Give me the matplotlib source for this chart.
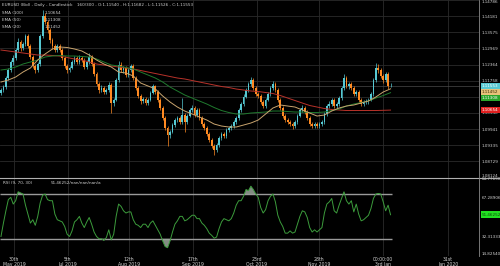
import numpy as np
import matplotlib
matplotlib.use('Agg')
import matplotlib.pyplot as plt
import matplotlib.transforms as mtransforms

# ---------------- data ----------------
open0 = 1.1130
closes = [1.1141, 1.1152, 1.1186, 1.1216, 1.1246, 1.1261, 1.1291, 1.1321, 1.1298, 1.1313,
          1.1343, 1.1306, 1.1265, 1.1231, 1.1216, 1.1238, 1.1343, 1.1419, 1.1396, 1.1366,
          1.1328, 1.1306, 1.1291, 1.1306, 1.1291, 1.1261, 1.1231, 1.1216, 1.1223, 1.1246,
          1.1261, 1.1246, 1.1261, 1.1253, 1.1227, 1.1246, 1.1265, 1.1238, 1.1201, 1.1163,
          1.1141, 1.1148, 1.1133, 1.1141, 1.1160, 1.1092, 1.1103, 1.1178, 1.1235, 1.1216,
          1.1223, 1.1197, 1.1216, 1.1231, 1.1186, 1.1148, 1.1118, 1.1099, 1.1107, 1.1092,
          1.1103, 1.1130, 1.1156, 1.1133, 1.1103, 1.1073, 1.1036, 1.0998, 1.0972, 1.0983,
          1.1009, 1.1028, 1.1036, 1.1021, 1.1047, 1.1021, 1.1043, 1.1066, 1.1073, 1.1047,
          1.1066, 1.1036, 1.1013, 1.0998, 1.0976, 1.0953, 1.0931, 1.0916, 1.0934, 1.0961,
          1.0976, 1.0968, 1.0991, 1.0998, 1.1006, 1.1021, 1.1036, 1.1066, 1.1088, 1.1115,
          1.1141, 1.1163, 1.1178, 1.1148, 1.1126, 1.1118, 1.1096, 1.1081, 1.1103, 1.1126,
          1.1148, 1.1163, 1.1141, 1.1103, 1.1073, 1.1043, 1.1028, 1.1021, 1.1013, 1.1006,
          1.1021, 1.1043, 1.1066, 1.1073, 1.1058, 1.1036, 1.1013, 1.1006, 1.1013, 1.1006,
          1.1013, 1.1021, 1.1051, 1.1081, 1.1088, 1.1103, 1.1081, 1.1088, 1.1111, 1.1148,
          1.1186, 1.1156, 1.1163, 1.1148, 1.1126, 1.1133, 1.1103, 1.1088, 1.1096, 1.1099,
          1.1103, 1.1126, 1.1178, 1.1223, 1.1216, 1.1193, 1.1178, 1.1201, 1.1154, 1.11553]
highs = [1.1150, 1.1160, 1.1194, 1.1225, 1.1255, 1.1272, 1.1300, 1.1335, 1.1330, 1.1320,
         1.1350, 1.1350, 1.1312, 1.1272, 1.1240, 1.1245, 1.1352, 1.1441, 1.1428, 1.1405,
         1.1372, 1.1335, 1.1312, 1.1315, 1.1312, 1.1298, 1.1268, 1.1240, 1.1232, 1.1255,
         1.1270, 1.1268, 1.1272, 1.1270, 1.1260, 1.1255, 1.1280, 1.1272, 1.1245, 1.1208,
         1.1170, 1.1158, 1.1155, 1.1150, 1.1170, 1.1166, 1.1112, 1.1186, 1.1250, 1.1245,
         1.1232, 1.1230, 1.1225, 1.1240, 1.1238, 1.1195, 1.1155, 1.1125, 1.1115, 1.1115,
         1.1112, 1.1138, 1.1163, 1.1160, 1.1140, 1.1110, 1.1080, 1.1042, 1.1005, 1.0992,
         1.1018, 1.1036, 1.1045, 1.1042, 1.1110, 1.1055, 1.1052, 1.1075, 1.1085, 1.1080,
         1.1075, 1.1072, 1.1042, 1.1020, 1.1005, 1.0982, 1.0960, 1.0938, 1.0942, 1.0968,
         1.0985, 1.0982, 1.0998, 1.1006, 1.1015, 1.1030, 1.1045, 1.1075, 1.1096, 1.1124,
         1.1150, 1.1172, 1.1190, 1.1185, 1.1155, 1.1135, 1.1125, 1.1102, 1.1110, 1.1134,
         1.1156, 1.1175, 1.1170, 1.1148, 1.1110, 1.1080, 1.1050, 1.1036, 1.1030, 1.1022,
         1.1030, 1.1052, 1.1075, 1.1085, 1.1080, 1.1065, 1.1042, 1.1020, 1.1022, 1.1020,
         1.1020, 1.1030, 1.1060, 1.1090, 1.1098, 1.1112, 1.1110, 1.1096, 1.1120, 1.1156,
         1.1200, 1.1195, 1.1172, 1.1172, 1.1155, 1.1142, 1.1140, 1.1110, 1.1104, 1.1106,
         1.1111, 1.1135, 1.1186, 1.1242, 1.1239, 1.1225, 1.1200, 1.1210, 1.1208, 1.11682]
lows = [1.1122, 1.1133, 1.1145, 1.1178, 1.1208, 1.1235, 1.1252, 1.1282, 1.1288, 1.1290,
        1.1305, 1.1298, 1.1258, 1.1222, 1.1205, 1.1208, 1.1230, 1.1335, 1.1388, 1.1355,
        1.1318, 1.1296, 1.1282, 1.1284, 1.1283, 1.1252, 1.1222, 1.1206, 1.1208, 1.1218,
        1.1240, 1.1238, 1.1240, 1.1245, 1.1218, 1.1220, 1.1240, 1.1230, 1.1192, 1.1155,
        1.1130, 1.1135, 1.1125, 1.1126, 1.1135, 1.1055, 1.1080, 1.1098, 1.1170, 1.1208,
        1.1205, 1.1188, 1.1190, 1.1208, 1.1178, 1.1140, 1.1110, 1.1090, 1.1092, 1.1085,
        1.1086, 1.1098, 1.1125, 1.1126, 1.1096, 1.1066, 1.1028, 1.0990, 1.0930, 1.0962,
        1.0978, 1.1002, 1.1020, 1.1012, 1.1015, 1.0985, 1.1015, 1.1038, 1.1060, 1.1040,
        1.1040, 1.1028, 1.1005, 1.0990, 1.0968, 1.0945, 1.0922, 1.0897, 1.0908, 1.0928,
        1.0955, 1.0960, 1.0962, 1.0985, 1.0990, 1.1000, 1.1015, 1.1030, 1.1060, 1.1082,
        1.1110, 1.1135, 1.1155, 1.1140, 1.1118, 1.1110, 1.1088, 1.1072, 1.1075, 1.1098,
        1.1120, 1.1142, 1.1132, 1.1095, 1.1065, 1.1035, 1.1020, 1.1012, 1.1005, 1.0996,
        1.1000, 1.1015, 1.1038, 1.1060, 1.1050, 1.1028, 1.1005, 1.0998, 1.1000, 1.0998,
        1.0999, 1.1005, 1.1015, 1.1045, 1.1072, 1.1080, 1.1072, 1.1072, 1.1080, 1.1105,
        1.1140, 1.1148, 1.1145, 1.1140, 1.1118, 1.1118, 1.1095, 1.1080, 1.1082, 1.1088,
        1.1090, 1.1098, 1.1120, 1.1170, 1.1205, 1.1185, 1.1168, 1.1170, 1.1146, 1.11526]

ma_step = 3  # indicator lines sampled every 3rd candle
sma100 = [1.12909, 1.12872, 1.12834, 1.12797, 1.12759, 1.12721, 1.12721, 1.12703, 1.12684, 1.12628,
          1.12571, 1.12534, 1.12459, 1.12384, 1.12346, 1.12309, 1.12271, 1.12233, 1.12196, 1.12140,
          1.12083, 1.12027, 1.11971, 1.11914, 1.11858, 1.11821, 1.11764, 1.11708, 1.11652, 1.11595,
          1.11539, 1.11501, 1.11445, 1.11408, 1.11370, 1.11351, 1.11314, 1.11276, 1.11201, 1.11107,
          1.11013, 1.10919, 1.10826, 1.10769, 1.10713, 1.10676, 1.10657, 1.10638, 1.10638, 1.10638,
          1.10638, 1.10638, 1.10646, 1.10654]
ema50 = [1.12158, 1.12196, 1.12271, 1.12384, 1.12459, 1.12534, 1.12646, 1.12684, 1.12703, 1.12684,
         1.12684, 1.12665, 1.12646, 1.12571, 1.12459, 1.12346, 1.12309, 1.12252, 1.12196, 1.12083,
         1.11971, 1.11858, 1.11708, 1.11520, 1.11370, 1.11220, 1.11107, 1.10995, 1.10882, 1.10751,
         1.10638, 1.10563, 1.10507, 1.10507, 1.10544, 1.10563, 1.10582, 1.10619, 1.10619, 1.10601,
         1.10582, 1.10582, 1.10563, 1.10563, 1.10582, 1.10638, 1.10694, 1.10807, 1.10882, 1.10938,
         1.10995, 1.11107, 1.11201, 1.11308]
sma20 = [1.11708, 1.11783, 1.11896, 1.12083, 1.12233, 1.12534, 1.12759, 1.12947, 1.13022, 1.13003,
         1.12947, 1.12872, 1.12721, 1.12534, 1.12384, 1.12271, 1.12083, 1.12046, 1.11933, 1.11670,
         1.11558, 1.11445, 1.11183, 1.10957, 1.10769, 1.10619, 1.10507, 1.10394, 1.10281, 1.10131,
         1.10056, 1.10019, 1.10019, 1.10093, 1.10169, 1.10281, 1.10507, 1.10732, 1.10845, 1.10807,
         1.10769, 1.10657, 1.10544, 1.10431, 1.10469, 1.10619, 1.10732, 1.10807, 1.10845, 1.10919,
         1.10995, 1.11145, 1.11333, 1.11452]

rsi = [32, 44, 55, 65, 67, 61, 64, 72, 71, 70,
       60, 52, 44, 47, 42, 50, 62, 69, 70, 65,
       64, 64, 52, 47, 46, 45, 41, 34, 32, 37,
       45, 47, 50, 44, 40, 45, 49, 43, 36, 32,
       30, 30, 28.5, 31, 38, 29, 34, 50, 61, 59,
       55, 53, 54, 54, 47, 43, 42, 40, 43, 43,
       40, 44, 46, 42, 38, 34, 28, 23, 22, 28,
       36, 43, 46, 50, 50, 46, 47, 49, 51, 51,
       48, 48, 44, 42, 39, 35, 33, 30.5, 31.5, 39,
       45, 48, 47, 46, 48, 53, 60, 64, 64, 68,
       74, 73, 77, 74, 70, 67, 58, 53, 56, 64,
       68, 70, 63, 51, 45, 41, 35, 35, 37, 35,
       36, 43, 50, 55, 54, 49, 40, 36, 38, 36,
       38, 40, 53, 61, 63, 66, 55, 53, 60, 66,
       72, 64, 61, 64, 54, 61, 52, 46, 47, 49,
       51, 57, 66, 70, 70.5, 70, 63, 55, 60, 51.46252]

date_ticks = [5.3, 27.3, 52.2, 78.4, 104.5, 129.8, 155.9, 182.4]
date_labels = ['30th\nMay 2019', '5th\nJul 2019', '12th\nAug 2019', '17th\nSep 2019',
               '23rd\nOct 2019', '28th\nNov 2019', '00:00:00\n3rd Jan', '31st\nJan 2020']
price_ticks = [1.08124, 1.08729, 1.09335, 1.09941, 1.10546, 1.11152,
               1.11758, 1.12364, 1.12969, 1.13575, 1.14181, 1.14786]
rsi_ticks = [14.82540, 32.31333, 67.28906, 84.77698]
rsi_upper, rsi_lower = 70, 30

# ---------------- styling ----------------
BG = 'black'
UP = '#56c8d2'
DN = '#ff8a22'
C_SMA100 = '#b8322a'
C_EMA50 = '#1f7a2e'
C_SMA20 = '#c9a46e'
GRID = '#2a2a2a'
TXT = '#d0d0d0'
FS = 3.0

W, H = 500, 266
fig = plt.figure(figsize=(W / 100, H / 100), dpi=100, facecolor=BG)
main_top, main_bot, rsi_bot = 0, 177.5, 255.7
plot_w = 479
ax = fig.add_axes([0, 1 - main_bot / H, plot_w / W, (main_bot - main_top) / H])
ax2 = fig.add_axes([0, 1 - rsi_bot / H, plot_w / W, (rsi_bot - main_bot) / H], sharex=ax)

for a in (ax, ax2):
    a.set_facecolor(BG)
    for s in a.spines.values():
        s.set_visible(False)

n = len(closes)
x = np.arange(n)
opens = np.array([open0] + closes[:-1])
c = np.array(closes)
hi = np.array(highs)
lo = np.array(lows)
up = c >= opens
cols = np.where(up, UP, DN)

# grid
for t in date_ticks:
    ax.axvline(t, color=GRID, lw=0.6, zorder=0)
    ax2.axvline(t, color=GRID, lw=0.6, zorder=0)
for t in price_ticks:
    ax.axhline(t, color=GRID, lw=0.6, zorder=0)

# candles
ax.vlines(x, lo, hi, colors=cols, lw=0.5, zorder=2)
body_bot = np.minimum(opens, c)
body_h = np.maximum(np.abs(c - opens), 0.00008)
ax.bar(x, body_h, bottom=body_bot, width=0.72, color=cols, edgecolor='none', zorder=3)

# moving averages
mx = np.arange(0, n, ma_step)
ax.plot(mx, sma100, color=C_SMA100, lw=0.7, zorder=4)
ax.plot(mx, ema50, color=C_EMA50, lw=0.7, zorder=4)
ax.plot(mx, sma20, color=C_SMA20, lw=0.7, zorder=4)

ax.axhline(closes[-1], color='#4a4a4a', lw=0.5, zorder=1)

ax.set_xlim(-0.4, (plot_w - 1) / 2.45)
ax.set_ylim(price_ticks[0], price_ticks[-1])
ax.yaxis.tick_right()
ax.set_yticks(price_ticks)
ax.set_yticklabels(['%.5f' % t for t in price_ticks])
ax.tick_params(axis='y', colors=TXT, labelsize=FS, length=0, pad=2)
ax.tick_params(axis='x', length=0, labelbottom=False)
ylabels = ax.get_yticklabels()
ylabels[0].set_va('bottom')
ylabels[-1].set_va('top')

# price badges
btrans = mtransforms.blended_transform_factory(ax.transAxes, ax.transData)
badge_h = 0.00225
badges = [(closes[-1], UP, 'white'), (sma20[-1], '#e6c27a', '#3a2a00'),
          (ema50[-1], '#2aa52a', 'white'), (sma100[-1], '#e02020', 'white')]
prev = None
for val, fc, tc in badges:
    ypos = val if prev is None else min(val, prev - badge_h)
    prev = ypos
    ax.text(1.006, ypos, '%.5f' % val, transform=btrans, fontsize=FS, color=tc,
            va='center', ha='left', zorder=10,
            bbox=dict(boxstyle='square,pad=0.3', fc=fc, ec='none'))

# RSI panel
r = np.array(rsi)
ax2.plot(x, r, color='#3c9c3c', lw=0.7, zorder=3)
ax2.hlines([rsi_upper, rsi_lower], -0.4, n - 0.5, colors='#9a9a9a', lw=1.0, zorder=2)
ax2.fill_between(x, rsi_upper, r, where=r > rsi_upper, interpolate=True,
                 color='#9aa59a', alpha=0.85, lw=0, zorder=2)
ax2.fill_between(x, rsi_lower, r, where=r < rsi_lower, interpolate=True,
                 color='#9aa59a', alpha=0.85, lw=0, zorder=2)
ax2.set_ylim(rsi_ticks[0], rsi_ticks[-1])
ax2.yaxis.tick_right()
ax2.set_yticks(rsi_ticks)
ax2.set_yticklabels(['%.5f' % t for t in rsi_ticks])
ax2.tick_params(axis='y', colors=TXT, labelsize=FS, length=0, pad=2)
yl2 = ax2.get_yticklabels()
yl2[0].set_va('bottom')
yl2[-1].set_va('top')
ax2.set_xticks(date_ticks)
ax2.set_xticklabels(date_labels, fontsize=FS + 0.3, color=TXT, linespacing=1.0)
ax2.tick_params(axis='x', length=0, pad=1)
btrans2 = mtransforms.blended_transform_factory(ax2.transAxes, ax2.transData)
ax2.text(1.006, rsi[-1], '%.5f' % rsi[-1], transform=btrans2, fontsize=FS, color='#0b4a0b',
         va='center', ha='left', zorder=10,
         bbox=dict(boxstyle='square,pad=0.3', fc='#22e022', ec='none'))

# frame lines
fig.add_artist(plt.Line2D([0, 1], [1 - main_bot / H] * 2, color='#b0b0b0', lw=0.8,
                          transform=fig.transFigure))
fig.add_artist(plt.Line2D([plot_w / W] * 2, [1 - rsi_bot / H, 1], color='#8a8a8a', lw=0.6,
                          transform=fig.transFigure))

# header texts
def ftxt(px, py, s, **kw):
    fig.text(px / W, 1 - py / H, s, fontsize=FS, color=TXT, va='center', ha='left', **kw)

ftxt(2, 5, 'EURUSD (Bid) - Daily - Candlestick')
ftxt(77, 5, '160/300 - O:1.11540 - H:1.11682 - L:1.11526 - C:1.11553')
ftxt(2, 13, 'SMA (100)')
ftxt(45, 13, '%.5f' % sma100[-1])
ftxt(2, 20, 'EMA (50)')
ftxt(45, 20, '%.5f' % ema50[-1])
ftxt(2, 27, 'SMA (20)')
ftxt(45, 27, '%.5f' % sma20[-1])
ftxt(3, 183.5, 'RSI (9, 70, 30)')
ftxt(51, 183.5, '%.5f/nan/nan/nan/a' % rsi[-1])

fig.savefig('out.png', dpi=100, facecolor=BG)
